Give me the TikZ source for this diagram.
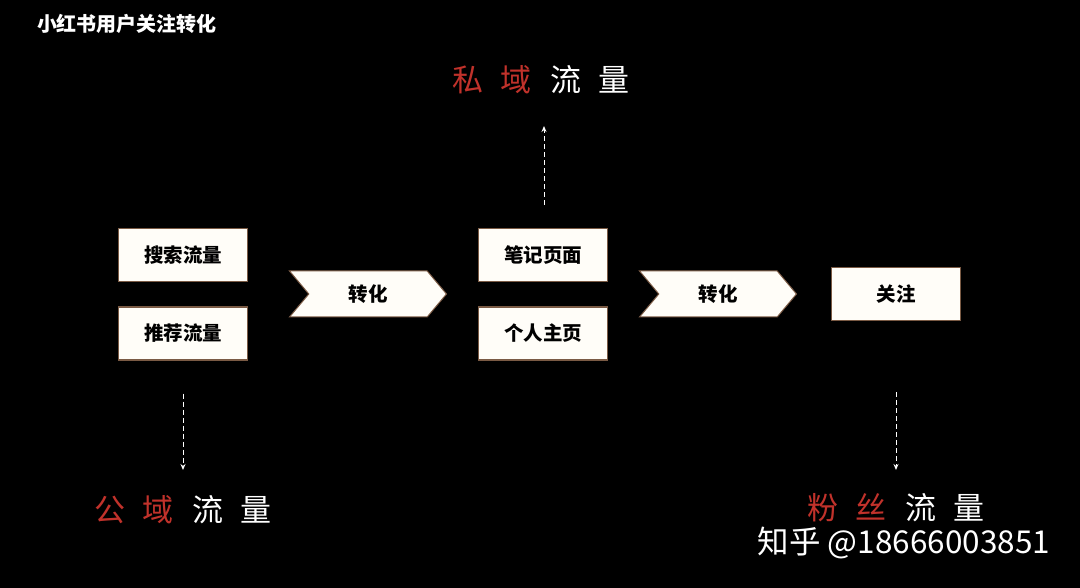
\documentclass[tikz,border=0pt]{standalone}
\usepackage{fontspec}
\newfontfamily\cjk{Noto Sans CJK SC}
\usetikzlibrary{arrows.meta, positioning, shapes.symbols}
\definecolor{boxedge}{HTML}{7A5A44}
\definecolor{boxfill}{HTML}{FFFDF8}
\definecolor{hired}{HTML}{C1322B}
\tikzset{
    box/.style={rectangle, draw=boxedge, fill=boxfill, line width=1.4pt, inner sep=0pt,
        minimum width=129pt, minimum height=53pt, font=\cjk\bfseries\fontsize{19.5}{22}\selectfont},
    chevron/.style={signal, signal from=west, signal to=east, signal pointer angle=100,
        draw=boxedge, fill=boxfill, line width=1pt, inner sep=0pt,
        minimum width=157pt, minimum height=46pt, font=\cjk\bfseries\fontsize{19.5}{22}\selectfont},
    flowarrow/.style={-{Stealth[length=6pt, width=5pt]}, white, line width=1pt,
        dash pattern=on 5pt off 3pt},
    biglabel/.style={text=white, inner sep=0pt, font=\cjk\fontsize{31}{34}\selectfont},
}
\newcommand{\gap}{\hspace{18pt}}

\begin{document}
\begin{tikzpicture}[x=1pt, y=-1pt, node distance=24pt]
    \fill[black] (0,0) rectangle (1080,588);
    \useasboundingbox (0,0) rectangle (1080,588);
    \node[text=white, inner sep=0pt, font=\cjk\bfseries\fontsize{20}{22}\selectfont] (title) at (127,24) {小红书用户关注转化};
    % sources
    \node[box] (search) at (183,255) {搜索流量};
    \node[box, below=of search] (recommend) {推荐流量};
    \node[chevron] (convA) at (368,294) {转化};
    % pages
    \node[box] (note) at (543,255) {笔记页面};
    \node[box, below=of note] (home) {个人主页};
    \node[chevron] (convB) at (718,294) {转化};
    \node[box] (follow) at (896,294) {关注};
    % traffic labels
    \node[biglabel] (private) at (541,80) {{\color{hired}私\gap 域}\gap 流\gap 量};
    \node[biglabel] (public) at (183,510) {{\color{hired}公\gap 域}\gap 流\gap 量};
    \node[biglabel] (fans) at (896,508) {{\color{hired}粉\gap 丝}\gap 流\gap 量};
    \coordinate (upEnd) at (544,126);
    \coordinate (pubEnd) at (183,470);
    \coordinate (fanEnd) at (896,470);
    \draw[flowarrow, shorten <=23pt] (note.north -| upEnd) -- (upEnd);
    \draw[flowarrow, shorten <=33pt] (recommend.south) -- (pubEnd);
    \draw[flowarrow, shorten <=71pt] (follow.south) -- (fanEnd);
    \node[text=white, inner sep=0pt, font=\cjk\fontsize{31.5}{34}\selectfont] (mark) at (904,543) {知乎 @18666003851};
\end{tikzpicture}
\end{document}
